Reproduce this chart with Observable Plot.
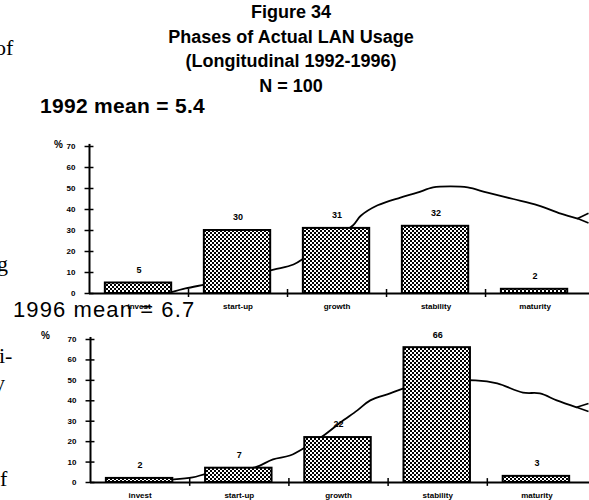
<!DOCTYPE html>
<html><head><meta charset="utf-8">
<script src="https://cdn.jsdelivr.net/npm/d3@7"></script>
<script src="https://cdn.jsdelivr.net/npm/@observablehq/plot@0.6"></script>
<style>
body{margin:0;background:#fff;}
#page{position:relative;width:589px;height:500px;overflow:hidden;background:#fff;font-family:"Liberation Sans",Arial,sans-serif;color:#000;}
.abs{position:absolute;white-space:nowrap;}
.title{left:0;width:582px;text-align:center;font-weight:bold;font-size:18px;line-height:24.5px;top:0;}
.frag{font-family:"Liberation Serif","Times New Roman",serif;font-size:22px;line-height:22px;}
#chart1992{position:absolute;left:0;top:130px;}
#chart1996{position:absolute;left:0;top:320px;}
</style>
</head><body>
<svg width="0" height="0" style="position:absolute">
  <defs>
    <pattern id="checker" width="4" height="4" patternUnits="userSpaceOnUse">
      <rect width="4" height="4" fill="#fff"/>
      <rect width="2" height="2" fill="#000"/>
      <rect x="2" y="2" width="2" height="2" fill="#000"/>
    </pattern>
  </defs>
</svg>
<div id="page">
  <div id="chart1992"></div>
  <div id="chart1996"></div>
  <div class="abs title">Figure 34<br>Phases of Actual LAN Usage<br>(Longitudinal 1992-1996)<br>N = 100</div>
  <div class="abs" style="left:40px;top:95px;font-size:21px;line-height:21px;font-weight:bold;letter-spacing:0.3px;">1992 mean = 5.4</div>
  <div class="abs" style="left:13px;top:299px;font-size:22px;line-height:22px;letter-spacing:1.1px;">1996 mean = 6.7</div>
  <div class="abs frag" style="left:-5px;top:37px;">of</div>
  <div class="abs frag" style="left:-3px;top:253px;">g</div>
  <div class="abs frag" style="left:-1px;top:345px;">i-</div>
  <div class="abs frag" style="left:-6px;top:372px;">y</div>
  <div class="abs frag" style="left:0px;top:468px;">f</div>
</div>
<script>
const categories = ["invest", "start-up", "growth", "stability", "maturity"];
const values1992 = [5, 30, 31, 32, 2];
const values1996 = [2, 7, 22, 66, 3];
const yTicks = [0, 10, 20, 30, 40, 50, 60, 70];
const xBoundaries = [1, 2, 3, 4];

// hand-drawn life-cycle curve behind the bars (x in category units, y in %)
const curve1992X = [0.82, 0.97, 1.17, 1.5, 1.86, 2.06, 2.18, 2.42, 2.66, 2.74, 2.91, 3.14, 3.31, 3.47, 3.65, 3.82, 4.02, 4.28, 4.53, 4.76, 4.93];
const curve1992Y = [0.5, 2.4, 4.3, 7.5, 11.4, 13.8, 17.3, 25, 32.4, 37, 42, 45.7, 48, 50.5, 51, 50.5, 48, 45, 42, 38, 35.7];
const fork1992Y = [38.2, 33.6];

const curve1996X = [0.84, 1.03, 1.18, 1.45, 1.66, 1.84, 2.01, 2.19, 2.35, 2.52, 2.69, 2.82, 3.02, 3.19, 3.5, 3.88, 4.10, 4.36, 4.53, 4.70, 4.90];
const curve1996Y = [1.5, 2.5, 4.4, 6, 7.4, 11.3, 13.2, 18, 23, 29.4, 35.3, 40.2, 43.6, 46.6, 49.5, 50, 48.5, 44, 43.6, 40.2, 36.8];
const fork1996Y = [38.7, 34.8];

const FONT = "Liberation Sans, Arial, sans-serif";

function makeChart({values, cx, cy, forkY, height, marginLeft, marginTop, marginBottom, xMax, pctDx, pctDy}) {
  const curve = cx.map((x, i) => ({x, y: cy[i]}));
  const last = curve[curve.length - 1];
  const forkX = xMax - 0.01;
  return Plot.plot({
    width: 589,
    height,
    marginLeft,
    marginRight: 0,
    marginTop,
    marginBottom,
    style: {overflow: "visible", background: "transparent", fontFamily: FONT},
    x: {type: "linear", domain: [0, xMax], axis: null},
    y: {type: "linear", domain: [0, 70], axis: null},
    marks: [
      // curve (drawn beneath bars)
      Plot.line(curve, {x: "x", y: "y", curve: "catmull-rom", stroke: "#000", strokeWidth: 1.8}),
      Plot.link(forkY, {x1: () => last.x, y1: () => last.y, x2: () => forkX, y2: d => d, stroke: "#000", strokeWidth: 1.6}),
      // bars
      Plot.rectY(values, {
        x1: (d, i) => i + 0.16, x2: (d, i) => i + 0.83, y1: () => 0, y2: d => d,
        fill: "url(#checker)", stroke: "#000", strokeWidth: 2
      }),
      // axis lines
      Plot.ruleY([0], {x1: () => 0, x2: () => xMax, stroke: "#000", strokeWidth: 2}),
      Plot.ruleX([0], {y1: () => 0, y2: () => 71, stroke: "#000", strokeWidth: 2}),
      // y ticks crossing the axis
      Plot.ruleY(yTicks, {y: d => d, x1: () => -0.045, x2: () => 0.045, stroke: "#000", strokeWidth: 1.5}),
      // x ticks crossing the axis
      Plot.ruleX(xBoundaries, {x: d => d, y1: () => -1.9, y2: () => 1.9, stroke: "#000", strokeWidth: 1.5}),
      // y tick labels
      Plot.text(yTicks, {x: () => 0, y: d => d, dx: -14, text: d => String(d), textAnchor: "end", fontSize: 8, fontWeight: "bold"}),
      Plot.text(["%"], {x: () => 0, y: () => 70, dx: pctDx, dy: pctDy, text: d => d, fontSize: 10, fontWeight: "bold"}),
      // category labels
      Plot.text(categories, {x: (d, i) => i + 0.5, y: () => 0, dy: 13, text: d => d, fontSize: 8, fontWeight: "bold", letterSpacing: 0.5}),
      // value labels
      Plot.text(values, {x: (d, i) => i + 0.5, y: d => d, dy: -13, text: d => String(d), fontSize: 9, fontWeight: "bold", letterSpacing: 0.5})
    ]
  });
}

const c1 = makeChart({values: values1992, cx: curve1992X, cy: curve1992Y, forkY: fork1992Y, height: 190, marginLeft: 89, marginTop: 16, marginBottom: 27, xMax: 5.05, pctDx: -31, pctDy: -2});
const c2 = makeChart({values: values1996, cx: curve1996X, cy: curve1996Y, forkY: fork1996Y, height: 180, marginLeft: 90, marginTop: 19, marginBottom: 18, xMax: 5.03, pctDx: -45, pctDy: -4});
document.getElementById("chart1992").appendChild(c1);
document.getElementById("chart1996").appendChild(c2);
</script>
</body></html>
